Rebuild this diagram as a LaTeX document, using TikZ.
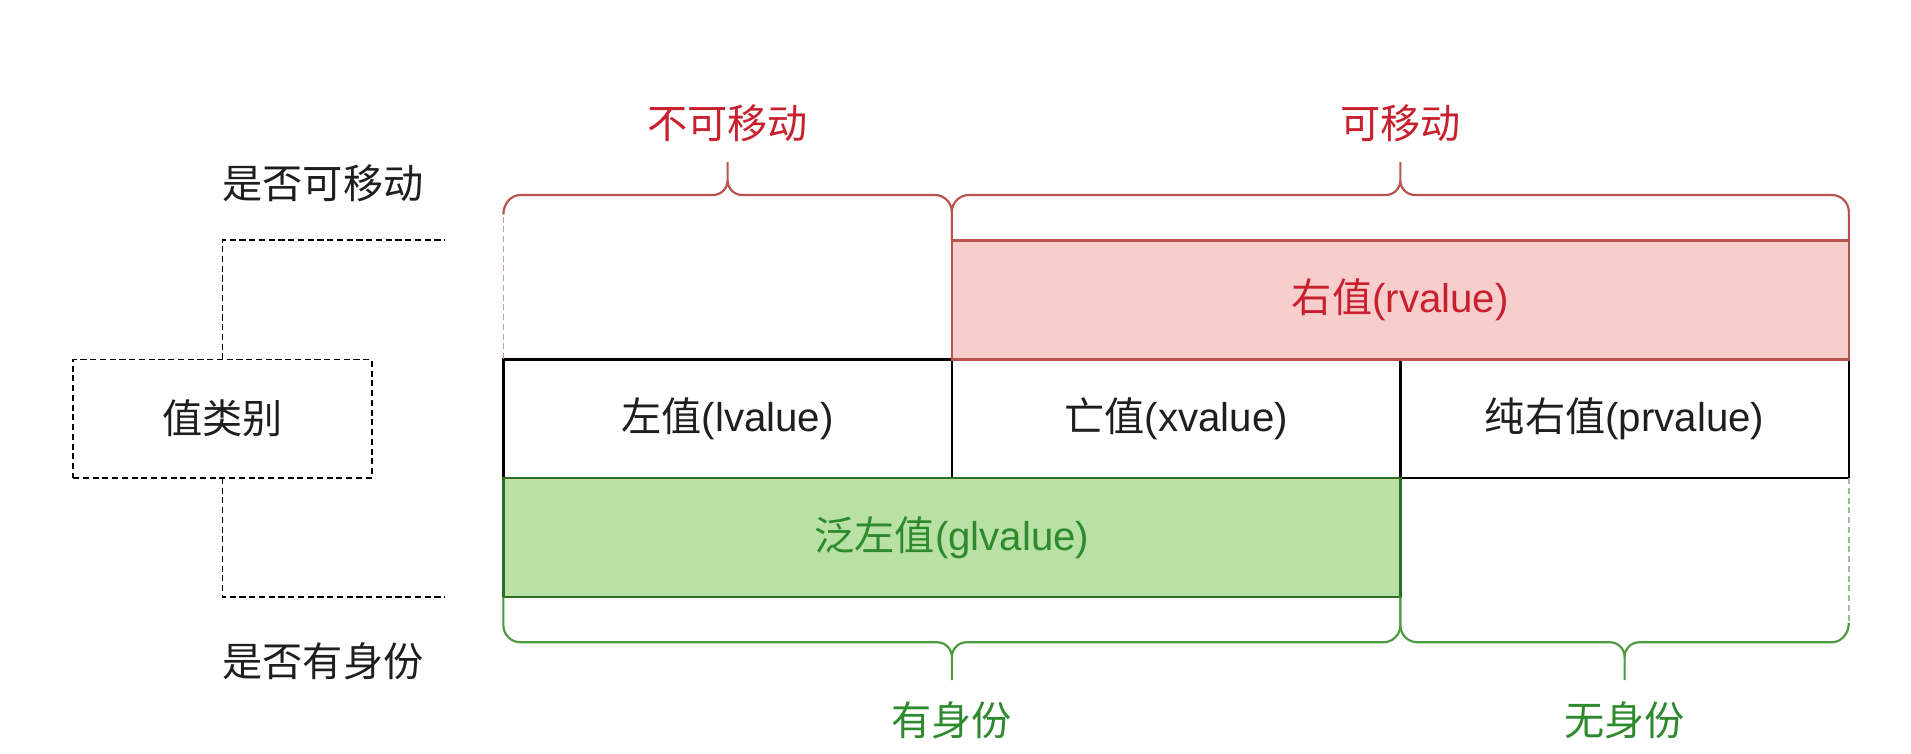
\documentclass[tikz,border=0pt]{standalone}
\usepackage{fontspec}
\setmainfont{Liberation Sans}
\newfontfamily\cjk{Noto Sans CJK SC}
\definecolor{redfill}{HTML}{F8CECC}
\definecolor{redline}{HTML}{B85450}
\definecolor{redtext}{HTML}{C8202E}
\definecolor{greenfill}{HTML}{B9E0A5}
\definecolor{greenline}{HTML}{2D6E22}
\definecolor{greenbrace}{HTML}{4E9A40}
\definecolor{greentext}{HTML}{2D8A2D}
\definecolor{inktext}{HTML}{1E1E1E}
\tikzset{
  x=1pt, y=1pt,
  txt/.style={font=\fontsize{33}{40}\selectfont, inner sep=0pt},
  cell/.style={draw=black, line width=2.2pt, minimum width=368pt, minimum height=97.5pt, inner sep=0pt, outer sep=0pt, txt, text=inktext},
  redbox/.style={cell, draw=redline, fill=redfill, text=redtext, minimum width=736pt},
  greenbox/.style={cell, draw=greenline, fill=greenfill, text=greentext, minimum width=736pt},
  catbox/.style={draw=black, line width=1.3pt, dash pattern=on 5pt off 3pt, minimum width=245pt, minimum height=97pt, inner sep=0pt, outer sep=0pt, txt, text=inktext},
  guide/.style={draw=black, line width=1.3pt, dash pattern=on 5pt off 3pt},
  redbrace/.style={draw=redline, line width=1.8pt, line join=round},
  greenbrace/.style={draw=greenbrace, line width=1.8pt, line join=round},
  redguide/.style={draw=redline!60, line width=1.2pt, dash pattern=on 5pt off 3pt},
  greenguide/.style={draw=greenbrace!60, line width=1.2pt, dash pattern=on 5pt off 3pt},
}
\begin{document}
\begin{tikzpicture}
\useasboundingbox (0,0) rectangle (1568,-618);
% middle row
\node[cell] (lv) at (597,-343.5) {{\cjk 左值}(lvalue)};
\node[cell] (xv) at (965,-343.5) {{\cjk 亡值}(xvalue)};
\node[cell] (prv) at (1333,-343.5) {{\cjk 纯右值}(prvalue)};
% rvalue and glvalue
\node[redbox] (rv) at (1149,-246) {{\cjk 右值}(rvalue)};
\node[greenbox] (glv) at (781,-441) {{\cjk 泛左值}(glvalue)};
% category box
\node[catbox] (cat) at (182.5,-343.5) {\cjk 值类别};
\coordinate (gtop) at (365,-197);
\coordinate (gbot) at (365,-490);
\draw[guide] (cat.north) |- (gtop);
\draw[guide] (cat.south) |- (gbot);
% side labels
\node[txt, text=inktext] (movq) at (265,-150) {\cjk 是否可移动};
\node[txt, text=inktext] (idq) at (265,-543) {\cjk 是否有身份};
% upper braces
\coordinate (ul) at (413,-176);
\draw[redguide] (lv.north west) -- (ul);
\draw[redbrace] (ul) to[out=90,in=180] (427,-160) -- (585,-160) to[out=0,in=-90] (597,-148) -- (597,-133)
  (597,-148) to[out=-90,in=180] (609,-160) -- (767,-160) to[out=0,in=90] (781,-174) -- (rv.north west);
\draw[redbrace] (rv.north west) -- (781,-174) to[out=90,in=180] (795,-160) -- (1137,-160) to[out=0,in=-90] (1149,-148) -- (1149,-133)
  (1149,-148) to[out=-90,in=180] (1161,-160) -- (1503,-160) to[out=0,in=90] (1517,-174) -- (rv.north east);
\node[txt, text=redtext] (nonmov) at (597,-101) {\cjk 不可移动};
\node[txt, text=redtext] (mov) at (1149,-101) {\cjk 可移动};
% lower braces
\coordinate (lr) at (1517,-511);
\draw[greenguide] (prv.south east) -- (lr);
\draw[greenbrace] (glv.south west) -- (413,-513) to[out=-90,in=180] (427,-527) -- (769,-527) to[out=0,in=90] (781,-539) -- (781,-558)
  (781,-539) to[out=90,in=180] (793,-527) -- (1135,-527) to[out=0,in=-90] (1149,-513) -- (glv.south east);
\draw[greenbrace] (glv.south east) -- (1149,-513) to[out=-90,in=180] (1163,-527) -- (1321,-527) to[out=0,in=90] (1333,-539) -- (1333,-558)
  (1333,-539) to[out=90,in=180] (1345,-527) -- (1503,-527) to[out=0,in=-90] (lr);
\node[txt, text=greentext] (hasid) at (781,-591) {\cjk 有身份};
\node[txt, text=greentext] (noid) at (1333,-591) {\cjk 无身份};
\end{tikzpicture}
\end{document}
